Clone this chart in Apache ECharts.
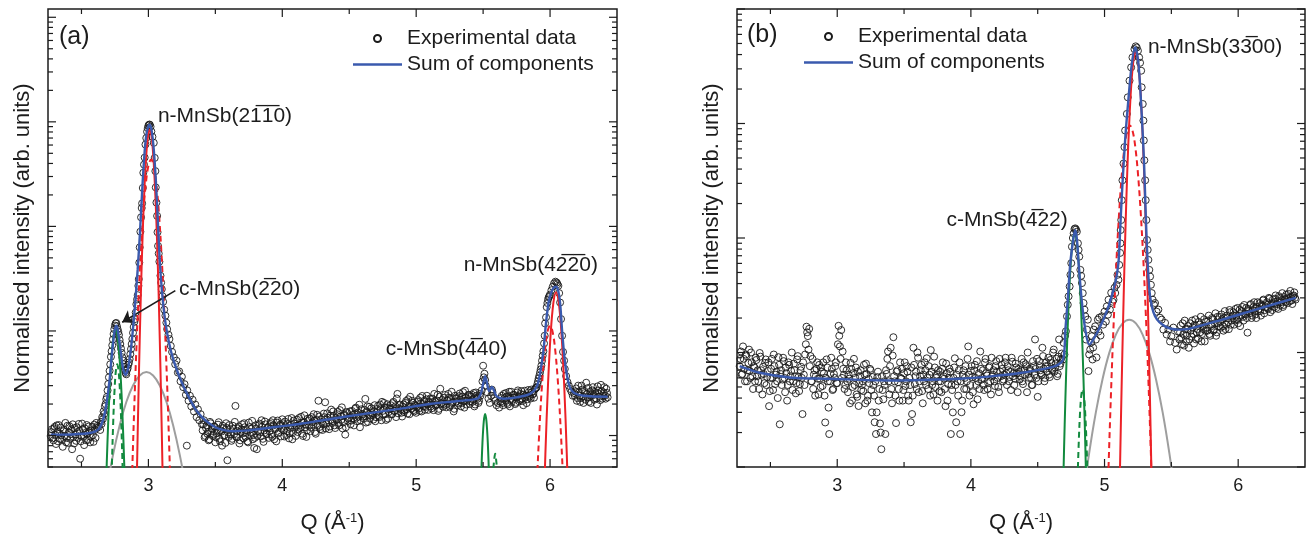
<!DOCTYPE html>
<html><head><meta charset="utf-8">
<script src="https://cdn.jsdelivr.net/npm/echarts@6/dist/echarts.min.js"></script>
<style>html,body{margin:0;padding:0;background:#fff}#c{width:1308px;height:539px}</style>
</head><body><div id="c"></div>
<script>
// ---------------- DATA (Q in 1/Angstrom, intensity in arb. units) ----------------
const qMajorTicks = [3, 4, 5, 6];
const qMinorTicks = [2.5, 3.5, 4.5, 5.5];

// Panel (a) experimental data
const expA = [
[2.27,99],[2.28,115],[2.29,90],[2.30,121],[2.31,83],[2.32,108],[2.33,126],[2.34,93],[2.35,101],[2.36,78],
[2.37,113],[2.38,132],[2.39,95],[2.40,85],[2.41,123],[2.42,103],[2.43,74],[2.44,97],[2.45,118],[2.46,89],
[2.47,108],[2.48,129],[2.49,60],[2.50,99],[2.51,115],[2.52,81],[2.53,106],[2.54,126],[2.55,91],[2.56,110],
[2.57,97],[2.58,121],[2.59,87],[2.60,113],[2.61,132],[2.62,124],
[2.63,121],[2.64,113],[2.645,135],[2.65,129],[2.655,150],[2.66,144],[2.665,170],[2.67,161],[2.675,190],[2.68,200],
[2.685,222],[2.69,234],[2.695,270],[2.70,311],[2.705,360],[2.71,416],[2.715,480],[2.72,566],[2.725,640],[2.73,729],
[2.735,830],[2.74,934],[2.745,1040],[2.75,1126],[2.755,1180],[2.76,1193],[2.765,1110],[2.77,1040],[2.775,980],[2.78,916],
[2.785,820],[2.79,750],[2.795,680],[2.80,617],[2.805,560],[2.81,521],[2.815,480],[2.82,454],[2.825,420],[2.83,397],
[2.835,385],[2.84,424],[2.845,440],[2.85,475],[2.855,500],[2.86,539],[2.865,600],[2.87,671],[2.875,750],[2.88,837],
[2.885,960],[2.89,1090],[2.895,1220],[2.90,1300],[2.905,1500],[2.91,1800],[2.915,2000],[2.92,2200],[2.925,2700],[2.928,3130],
[2.932,4500],[2.935,6300],[2.94,8900],[2.945,12200],[2.95,15000],[2.953,16600],[2.958,23300],[2.962,32600],[2.967,39000],[2.972,45500],
[2.978,60650],[2.984,70000],[2.99,80500],[2.995,87000],[3.00,92000],[3.005,94000],[3.01,94080],[3.016,90000],[3.022,81000],[3.03,72000],
[3.04,63000],[3.047,45200],[3.052,33800],[3.055,23600],[3.06,16900],[3.065,12600],[3.068,8800],[3.072,6500],[3.077,5500],[3.082,4600],
[3.09,3380],[3.095,2900],[3.10,2510],[3.105,2150],[3.11,1900],[3.118,1600],[3.127,1400],[3.134,1200],[3.14,1040],[3.15,920],
[3.157,837],[3.167,720],[3.177,630],[3.19,560],[3.20,480],[3.21,520],[3.22,400],[3.23,410],[3.24,330],[3.25,365],
[3.26,290],[3.27,310],[3.28,245],[3.287,80],[3.29,270],[3.30,215],[3.31,240],[3.32,190],[3.33,220],[3.34,170],[3.35,198],
[3.36,150],[3.37,178],[3.38,140],[3.39,160],[3.40,128],
[3.41,128],[3.42,96],[3.43,118],[3.44,104],[3.45,90],[3.46,135],[3.47,110],[3.48,99],[3.49,122],[3.50,86],
[3.51,105],[3.52,127],[3.53,93],[3.54,112],[3.55,80],[3.56,118],[3.57,101],[3.58,131],[3.59,58],[3.60,97],
[3.61,115],[3.62,89],[3.63,124],[3.64,103],[3.65,192],[3.66,96],[3.67,117],[3.68,84],[3.69,109],[3.70,128],
[3.71,94],[3.72,120],[3.73,106],[3.74,88],[3.75,133],[3.76,100],[3.77,116],[3.78,92],[3.79,76],[3.80,125],
[3.81,74],[3.82,110],[3.83,130],[3.84,98],[3.85,121],[3.86,87],[3.87,136],[3.88,104],[3.89,118],[3.90,95],
[3.91,129],[3.92,102],[3.93,140],[3.94,92],[3.95,118],[3.96,133],[3.97,105],[3.98,124],[3.99,98],[4.00,143],
[4.01,112],[4.02,136],[4.03,101],[4.04,129],[4.05,94],[4.06,118],[4.07,147],[4.08,108],[4.09,130],[4.10,99],
[4.11,142],[4.12,115],[4.13,126],[4.14,151],[4.15,104],[4.16,133],[4.17,120],[4.18,97],[4.19,145],[4.20,124],
[4.21,110],[4.22,150],[4.23,128],[4.24,139],[4.25,104],[4.26,158],[4.27,215],[4.28,121],[4.29,143],[4.30,113],
[4.31,162],[4.32,208],[4.33,130],[4.34,148],[4.35,115],[4.36,155],[4.37,137],[4.38,170],[4.39,125],[4.40,146],
[4.41,160],[4.42,132],[4.43,175],[4.44,141],[4.45,117],[4.46,155],[4.47,102],[4.48,168],[4.49,138],[4.50,150],
[4.51,128],[4.52,172],[4.53,146],[4.54,160],[4.55,185],[4.56,137],[4.57,152],[4.58,120],[4.59,178],[4.60,158],
[4.61,145],[4.62,224],[4.63,170],[4.64,135],[4.65,188],[4.66,156],[4.67,164],[4.68,142],[4.69,195],[4.70,150],
[4.71,180],[4.72,154],[4.73,198],[4.74,140],[4.75,172],[4.76,205],[4.77,160],[4.78,185],[4.79,145],[4.80,178],
[4.81,195],[4.82,160],[4.83,210],[4.84,172],[4.85,150],[4.86,250],[4.87,182],[4.88,198],[4.89,165],[4.90,188],
[4.91,168],[4.92,205],[4.93,178],[4.94,222],[4.95,160],[4.96,190],[4.97,215],[4.98,175],[4.99,198],[5.00,165],
[5.01,210],[5.02,182],[5.03,230],[5.04,170],[5.05,200],[5.06,215],[5.07,188],[5.08,240],[5.09,176],[5.10,205],
[5.11,190],[5.12,225],[5.13,175],[5.14,212],[5.15,198],[5.16,245],[5.17,180],[5.18,280],[5.19,205],[5.20,188],
[5.21,230],[5.22,196],[5.23,215],[5.24,250],[5.25,188],[5.26,225],[5.27,205],[5.28,170],[5.29,240],[5.30,212],
[5.31,195],[5.32,238],[5.33,220],[5.34,205],[5.35,260],[5.36,185],[5.37,230],[5.38,215],[5.39,245],[5.40,200],
[5.41,235],[5.42,210],[5.43,255],[5.44,198],[5.45,240],[5.46,225],[5.47,215],
[5.48,240],[5.49,270],[5.495,330],[5.50,465],[5.505,360],[5.51,390],[5.515,340],[5.52,300],[5.53,260],[5.54,225],
[5.55,205],[5.56,240],[5.565,275],[5.57,260],[5.58,230],[5.59,215],[5.60,195],[5.61,205],[5.62,185],
[5.63,210],[5.64,240],[5.65,195],[5.66,228],[5.67,255],[5.68,205],[5.69,238],[5.70,190],[5.71,262],[5.72,220],
[5.73,245],[5.74,200],[5.75,232],[5.76,270],[5.77,212],[5.78,250],[5.79,226],[5.80,195],[5.81,268],[5.82,240],
[5.83,222],[5.84,258],[5.85,236],[5.86,275],[5.87,248],[5.88,230],[5.89,282],[5.90,290],
[5.905,310],[5.91,330],[5.915,352],[5.92,373],[5.925,400],[5.93,430],[5.935,465],[5.94,520],[5.945,580],[5.95,640],
[5.955,760],[5.96,900],[5.963,1180],[5.97,1350],[5.975,1690],[5.98,1850],[5.985,2000],[5.99,2100],[5.995,2150],[6.00,2230],
[6.01,2450],[6.02,2650],[6.03,2850],[6.04,2960],[6.05,2900],[6.055,2800],[6.062,2700],[6.068,2300],[6.075,1870],[6.082,1300],
[6.09,900],[6.097,630],[6.105,520],[6.11,433],[6.12,370],[6.13,325],[6.14,300],[6.15,279],[6.16,262],[6.17,240],[6.18,255],
[6.19,265],[6.20,215],[6.21,300],[6.22,240],[6.23,228],[6.24,275],[6.25,205],[6.26,255],[6.27,320],[6.28,232],
[6.29,210],[6.30,262],[6.31,245],[6.32,290],[6.33,220],[6.34,250],[6.35,198],[6.36,270],[6.37,235],[6.38,305],
[6.39,225],[6.40,258],[6.41,240],[6.42,280],[6.43,232]
];
// Panel (a) experimental data, intermediate scan points in the flat regions
const expAmid = [
[2.275,108],[2.285,94],[2.295,117],[2.305,101],[2.315,125],[2.325,88],[2.335,104],[2.345,119],[2.355,92],[2.365,110],
[2.375,99],[2.385,86],[2.395,124],[2.405,107],[2.415,93],[2.425,115],[2.435,128],[2.445,84],[2.455,102],[2.465,120],
[2.475,95],[2.485,111],[2.495,88],[2.505,130],[2.515,97],[2.525,117],[2.535,90],[2.545,104],[2.555,122],[2.565,86],
[2.575,112],[2.585,101],[2.595,127],[2.605,95],[2.615,118],
[3.405,112],[3.415,140],[3.425,99],[3.435,125],[3.445,108],[3.455,92],[3.465,131],[3.475,117],[3.485,103],[3.495,121],
[3.505,96],[3.515,113],[3.525,134],[3.535,88],[3.545,109],[3.555,124],[3.565,100],[3.575,85],[3.585,118],[3.595,107],
[3.605,126],[3.615,102],[3.625,93],[3.635,116],[3.645,135],[3.655,98],[3.665,110],[3.675,122],[3.685,90],[3.695,114],
[3.705,105],[3.715,131],[3.725,97],[3.735,112],[3.745,86],[3.755,120],[3.765,108],[3.775,138],[3.785,101],[3.795,95],
[3.805,117],[3.815,99],[3.825,126],[3.835,108],[3.845,140],[3.855,93],[3.865,112],[3.875,128],[3.885,103],[3.895,121],
[3.905,110],[3.915,134],[3.925,97],[3.935,125],[3.945,115],[3.955,88],[3.965,139],[3.975,108],[3.985,128],[3.995,116],
[4.005,131],[4.015,98],[4.025,122],[4.035,110],[4.045,144],[4.055,105],[4.065,126],[4.075,92],[4.085,139],[4.095,119],
[4.105,124],[4.115,108],[4.125,147],[4.135,118],[4.145,133],[4.155,99],[4.165,156],[4.175,127],[4.185,112],[4.195,138],
[4.205,146],[4.215,119],[4.225,134],[4.235,160],[4.245,108],[4.255,141],[4.265,126],[4.275,152],[4.285,115],[4.295,135],
[4.305,128],[4.315,150],[4.325,117],[4.335,163],[4.345,139],[4.355,122],[4.365,177],[4.375,132],[4.385,154],[4.395,118],
[4.405,141],[4.415,168],[4.425,125],[4.435,152],[4.445,186],[4.455,133],[4.465,158],[4.475,120],[4.485,164],[4.495,145],
[4.505,170],[4.515,139],[4.525,157],[4.535,125],[4.545,181],[4.555,148],[4.565,166],[4.575,197],[4.585,140],[4.595,161],
[4.605,152],[4.615,176],[4.625,133],[4.635,190],[4.645,161],[4.655,145],[4.665,182],[4.675,158],[4.685,171],[4.695,137],
[4.705,165],[4.715,192],[4.725,150],[4.735,178],[4.745,210],[4.755,158],[4.765,186],[4.775,141],[4.785,199],[4.795,168],
[4.805,181],[4.815,159],[4.825,204],[4.835,172],[4.845,190],[4.855,226],[4.865,163],[4.875,195],[4.885,178],[4.895,152],
[4.905,198],[4.915,175],[4.925,214],[4.935,162],[4.945,188],[4.955,235],[4.965,180],[4.975,206],[4.985,170],[4.995,193],
[5.005,185],[5.015,218],[5.025,172],[5.035,201],[5.045,239],[5.055,190],[5.065,176],[5.075,222],[5.085,198],[5.095,212],
[5.105,226],[5.115,182],[5.125,208],[5.135,250],[5.145,193],[5.155,216],[5.165,172],[5.175,235],[5.185,200],[5.195,219],
[5.205,201],[5.215,244],[5.225,186],[5.235,218],[5.245,230],[5.255,196],[5.265,262],[5.275,209],[5.285,180],[5.295,226],
[5.305,228],[5.315,204],[5.325,252],[5.335,190],[5.345,236],[5.355,215],[5.365,268],[5.375,198],[5.385,224],[5.395,243],
[5.405,212],[5.415,246],[5.425,222],[5.435,190],[5.445,258],[5.455,232],[5.465,205],[5.475,250],
[5.635,228],[5.645,205],[5.655,250],[5.665,218],[5.675,236],[5.685,198],[5.695,262],[5.705,224],[5.715,210],[5.725,245],
[5.735,232],[5.745,206],[5.755,258],[5.765,238],[5.775,220],[5.785,266],[5.795,214],[5.805,246],[5.815,230],[5.825,204],
[5.835,272],[5.845,242],[5.855,226],[5.865,260],[5.875,250],[5.885,275],[5.895,285],
[6.185,240],[6.195,282],[6.205,228],[6.215,258],[6.225,210],[6.235,300],[6.245,236],[6.255,268],[6.265,220],[6.275,250],
[6.285,285],[6.295,232],[6.305,205],[6.315,270],[6.325,244],[6.335,262],[6.345,226],[6.355,295],[6.365,250],[6.375,218],
[6.385,266],[6.395,240],[6.405,290],[6.415,225],[6.425,255]
];
// Panel (a) fitted sum
const sumA = [
[2.27,102],[2.35,102],[2.45,103],[2.55,105],[2.60,109],[2.63,116],[2.65,129],[2.67,155],[2.69,215],[2.71,340],
[2.725,560],[2.74,850],[2.75,1040],[2.76,1125],[2.77,1040],[2.785,760],[2.80,540],[2.815,416],[2.83,380],[2.845,424],
[2.86,539],[2.875,780],[2.89,1250],[2.905,2120],[2.92,3900],[2.935,7900],[2.95,18130],[2.965,39090],[2.98,67680],[2.995,87000],
[3.01,94080],[3.025,81000],[3.04,54340],[3.055,28120],[3.07,11700],[3.085,4650],[3.10,2510],[3.12,1400],[3.14,950],[3.17,630],
[3.20,470],[3.25,320],[3.30,235],[3.35,180],[3.40,150],[3.45,132],[3.50,120],[3.55,114],[3.63,110],[3.75,112],
[3.89,118],[4.00,123],[4.13,129],[4.36,144],[4.60,160],[4.86,179],[5.10,200],[5.30,213],[5.45,224],[5.48,245],
[5.50,311],[5.515,370],[5.53,311],[5.545,267],[5.565,292],[5.58,272],[5.60,238],[5.65,225],[5.75,232],[5.85,250],
[5.90,293],[5.925,390],[5.95,640],[5.97,1200],[5.99,1900],[6.01,2350],[6.03,2620],[6.045,2650],[6.06,2450],[6.075,1850],
[6.09,1000],[6.105,600],[6.12,420],[6.135,330],[6.15,285],[6.18,255],[6.25,240],[6.43,235]
];
// Panel (a) components
const cGreenA = [[2.674,12],[2.684,34.5],[2.694,85],[2.704,183],[2.714,343],[2.724,558],[2.734,788],[2.744,970],[2.754,1040],[2.764,970],[2.774,788],[2.784,558],[2.794,343],[2.804,183],[2.814,85],[2.824,34.5],[2.834,12]];
const cGreenDashA = [[2.717,14],[2.727,50],[2.737,134],[2.747,272],[2.757,417],[2.767,480],[2.777,417],[2.787,272],[2.797,134],[2.807,50],[2.817,14]];
const nRedA = [[2.90,3.9],[2.91,22.4],[2.92,107],[2.93,433],[2.94,1490],[2.95,4370],[2.96,10800],[2.97,22600],[2.98,40100],[2.99,60600],[3.00,77600],[3.01,84300],[3.02,77600],[3.03,60600],[3.04,40100],[3.05,22600],[3.06,10800],[3.07,4370],[3.08,1490],[3.09,433],[3.10,107],[3.11,22.4],[3.12,3.9]];
const nRedDashA = [[2.86,6.3],[2.88,50],[2.90,302],[2.92,1380],[2.94,4800],[2.96,12600],[2.98,25100],[3.00,38000],[3.02,43600],[3.04,38000],[3.06,25100],[3.08,12600],[3.10,4800],[3.12,1380],[3.14,302],[3.16,50],[3.18,6.3]];
const grayA = [[2.635,11.2],[2.685,28.9],[2.735,64.6],[2.785,125],[2.835,209],[2.885,301],[2.935,375],[2.985,404],[3.035,375],[3.085,301],[3.135,209],[3.185,125],[3.235,64.6],[3.285,28.9],[3.335,11.2]];
const cGreen2A = [[5.475,12.3],[5.485,38],[5.495,85],[5.505,137],[5.515,161],[5.525,137],[5.535,85],[5.545,38],[5.555,12.3]];
const cGreen2DashA = [[5.565,20],[5.575,45],[5.585,62],[5.59,67],[5.595,62],[5.605,45],[5.615,20]];
const nRed2A = [[5.945,8.9],[5.965,66],[5.985,314],[6.005,960],[6.025,1870],[6.045,2340],[6.065,1870],[6.085,960],[6.105,314],[6.125,66],[6.145,8.9]];
const nRed2DashA = [[5.88,6.3],[5.90,31],[5.92,112],[5.94,307],[5.96,630],[5.98,970],[6.00,1120],[6.02,970],[6.04,630],[6.06,307],[6.08,112],[6.10,31],[6.12,6.3]];

// Panel (b) experimental data
const expB = [
[2.27,760],[2.28,1020],[2.29,650],[2.30,880],[2.31,560],[2.32,930],[2.33,700],[2.34,1060],[2.35,600],[2.36,820],
[2.37,480],[2.38,740],[2.39,900],[2.40,620],[2.41,560],[2.42,990],[2.43,700],[2.44,430],[2.45,650],[2.46,810],
[2.47,520],[2.48,690],[2.49,340],[2.50,600],[2.51,880],[2.52,470],[2.53,760],[2.54,640],[2.55,560],[2.56,910],
[2.57,236],[2.58,700],[2.59,580],[2.60,840],[2.61,450],[2.62,660],[2.63,520],[2.64,780],[2.65,620],[2.66,1000],
[2.67,560],[2.68,700],[2.69,440],[2.70,870],[2.71,610],[2.72,530],[2.73,750],[2.74,290],[2.75,640],[2.76,960],
[2.77,1680],[2.78,1390],[2.79,1610],[2.80,930],[2.81,560],[2.82,480],[2.83,700],[2.84,620],[2.85,820],[2.86,430],
[2.87,590],[2.88,740],[2.89,510],[2.90,660],[2.91,245],[2.92,870],[2.93,560],[2.94,194],[2.95,650],[2.96,720],
[2.97,480],[2.98,600],[2.99,820],[3.00,540],[3.01,1710],[3.02,1130],[3.03,1570],[3.04,1020],[3.05,640],[3.06,520],
[3.07,700],[3.08,450],[3.09,590],[3.10,810],[3.11,380],[3.12,660],[3.13,520],[3.14,740],[3.15,410],[3.16,341],
[3.17,620],[3.18,470],[3.19,560],[3.20,780],[3.21,360],[3.22,650],[3.23,420],[3.24,540],[3.25,700],[3.26,300],
[3.27,520],[3.28,246],[3.29,194],[3.30,610],[3.31,380],[3.32,240],[3.33,143],[3.34,470],[3.35,560],[3.36,194],
[3.37,650],[3.38,1020],[3.39,430],[3.40,1100],[3.41,360],[3.42,1360],[3.43,560],[3.44,242],[3.45,700],[3.46,480],
[3.47,820],[3.48,590],[3.49,380],[3.50,660],[3.51,510],[3.52,760],[3.53,420],[3.54,600],[3.55,246],[3.56,290],
[3.57,1100],[3.58,530],[3.59,680],[3.60,1000],[3.61,450],[3.62,620],[3.63,780],[3.64,360],[3.65,560],[3.66,700],
[3.67,890],[3.68,480],[3.69,640],[3.70,1050],[3.71,520],[3.72,430],[3.73,740],[3.74,600],[3.75,380],[3.76,560],
[3.77,680],[3.78,450],[3.79,820],[3.80,590],[3.81,340],[3.82,660],[3.83,530],[3.84,720],[3.85,194],[3.86,470],
[3.87,600],[3.88,890],[3.89,246],[3.90,560],[3.91,700],[3.92,194],[3.93,301],[3.94,640],[3.95,480],[3.96,760],
[3.97,560],[3.98,1130],[3.99,420],[4.00,690],[4.01,610],[4.02,353],[4.03,780],[4.04,520],[4.05,390],[4.06,660],
[4.07,1020],[4.08,580],[4.09,700],[4.10,470],[4.11,880],[4.12,630],[4.13,540],[4.14,760],[4.15,430],[4.16,620],
[4.17,700],[4.18,510],[4.19,840],[4.20,600],[4.21,450],[4.22,680],[4.23,780],[4.24,560],[4.25,640],[4.26,900],
[4.27,520],[4.28,700],[4.29,610],[4.30,470],[4.31,830],[4.32,660],[4.33,590],[4.34,740],[4.35,450],[4.36,680],
[4.37,620],[4.38,880],[4.39,530],[4.40,700],[4.41,790],[4.42,450],[4.43,650],[4.44,720],[4.45,600],[4.46,520],
[4.47,760],[4.48,1300],[4.49,600],[4.50,410],[4.51,840],[4.52,700],[4.53,640],[4.54,930],[4.55,560],[4.56,760],
[4.57,680],[4.58,900],[4.59,610],[4.60,810],[4.61,700],[4.62,1060],[4.63,740],[4.64,880],[4.65,650],[4.66,1300],
[4.67,800],[4.68,980],
[4.69,869],[4.694,1214],[4.70,960],[4.705,1400],[4.711,1531],[4.719,2069],[4.725,2614],[4.731,3090],[4.739,3773],[4.745,4766],
[4.751,6026],[4.756,8395],[4.763,10000],[4.769,10990],[4.775,11970],[4.781,12140],[4.787,11850],[4.793,11350],[4.801,8990],[4.806,7870],
[4.811,6870],[4.819,5270],[4.825,4675],[4.831,4040],[4.837,3300],[4.843,2705],[4.85,2366],[4.856,2069],[4.862,1297],[4.868,1585],
[4.875,1936],[4.88,688],[4.885,961],[4.893,1061],[4.90,1222],[4.905,1387],[4.91,869],[4.915,1105],[4.92,1585],[4.93,1693],
[4.935,1296],[4.94,905],[4.95,1936],[4.955,1523],[4.96,2014],[4.97,1406],[4.98,2069],[4.99,1750],[5.00,2273],[5.01,1861],
[5.017,2528],[5.025,2140],[5.03,2890],[5.04,2370],[5.05,3325],[5.06,2775],[5.067,2890],[5.075,3674],[5.08,3304],[5.09,3900],
[5.097,4766],[5.104,4313],[5.11,5823],[5.117,7412],[5.119,8990],[5.121,11740],[5.125,14350],[5.129,21400],[5.134,31900],[5.142,44700],
[5.149,62200],[5.154,86900],[5.167,121300],[5.174,169300],[5.187,236600],[5.199,309000],[5.209,377500],[5.224,446500],[5.233,472000],[5.241,461000],
[5.25,431500],[5.259,377500],[5.266,339000],[5.274,289000],[5.278,207000],[5.286,148000],[5.291,106000],[5.294,71100],[5.298,47700],[5.304,31900],
[5.308,21400],[5.313,14350],[5.318,9610],[5.323,7870],[5.328,6440],[5.335,5270],[5.341,4606],[5.347,3900],[5.353,3304],[5.36,2890],
[5.37,2614],[5.378,2705],[5.39,2273],[5.403,2370],[5.415,2014],[5.428,1936],[5.44,1585],[5.453,1813],[5.465,1434],[5.478,1585],
[5.49,1247],[5.50,1387],[5.515,1650],[5.528,1214],[5.54,1061],[5.55,1523],
[5.56,1300],[5.57,1720],[5.58,1180],[5.59,1450],[5.60,1900],[5.61,1250],[5.62,1600],[5.63,1100],[5.64,1800],[5.65,1380],
[5.66,1650],[5.67,1200],[5.68,1950],[5.69,1500],[5.70,1320],[5.71,1750],[5.72,2050],[5.73,1450],[5.74,1600],[5.75,1250],
[5.76,1850],[5.77,1550],[5.78,2100],[5.79,1400],[5.80,1700],[5.81,1950],[5.82,1600],[5.83,2200],[5.84,1500],[5.85,1800],
[5.86,2050],[5.87,1650],[5.88,1950],[5.89,1550],[5.90,2300],[5.91,1750],[5.92,2000],[5.93,1600],[5.94,2250],[5.95,1900],
[5.96,2100],[5.97,1750],[5.98,2400],[5.99,1950],[6.00,1800],[6.01,2350],[6.02,2100],[6.03,2500],[6.04,1900],[6.05,2200],
[6.06,2450],[6.07,1490],[6.08,2300],[6.09,2600],[6.10,2000],[6.11,2350],[6.12,2750],[6.13,2150],[6.14,2500],[6.15,2300],
[6.16,2700],[6.17,2100],[6.18,2550],[6.19,2900],[6.20,2350],[6.21,2650],[6.22,2450],[6.23,3000],[6.24,2250],[6.25,2700],
[6.26,2900],[6.27,2500],[6.28,3150],[6.29,2650],[6.30,2400],[6.31,3000],[6.32,2750],[6.33,3300],[6.34,2600],[6.35,2900],
[6.36,3200],[6.37,2700],[6.38,3000],[6.39,3450],[6.40,2850],[6.41,3100],[6.42,3350],[6.43,2900]
];
// Panel (b) experimental data, intermediate scan points in the flat regions
const expBmid = [
[2.275,880],[2.285,640],[2.295,1130],[2.305,720],[2.315,960],[2.325,560],[2.335,810],[2.345,690],[2.355,1000],[2.365,620],
[2.375,760],[2.385,560],[2.395,860],[2.405,700],[2.415,480],[2.425,920],[2.435,640],[2.445,750],[2.455,540],[2.465,870],
[2.475,610],[2.485,820],[2.495,460],[2.505,720],[2.515,600],[2.525,960],[2.535,530],[2.545,680],[2.555,400],[2.565,780],
[2.575,650],[2.585,520],[2.595,900],[2.605,600],[2.615,740],[2.625,380],[2.635,820],[2.645,560],[2.655,690],[2.665,470],
[2.675,800],[2.685,620],[2.695,540],[2.705,930],[2.715,460],[2.725,700],[2.735,600],[2.745,820],[2.755,520],[2.765,1180],
[2.775,1500],[2.785,1060],[2.795,760],[2.805,560],[2.815,880],[2.825,640],[2.835,420],[2.845,720],[2.855,590],[2.865,780],
[2.875,500],[2.885,680],[2.895,820],[2.905,420],[2.915,600],[2.925,740],[2.935,330],[2.945,560],[2.955,900],[2.965,470],
[2.975,650],[2.985,760],[2.995,540],[3.005,1180],[3.015,1400],[3.025,880],[3.035,600],[3.045,720],[3.055,480],[3.065,820],
[3.075,560],[3.085,640],[3.095,360],[3.105,720],[3.115,500],[3.125,880],[3.135,600],[3.145,430],[3.155,680],[3.165,540],
[3.175,700],[3.185,520],[3.195,460],[3.205,640],[3.215,800],[3.225,380],[3.235,590],[3.245,720],[3.255,470],[3.265,610],
[3.275,420],[3.285,560],[3.295,300],[3.305,680],[3.315,480],[3.325,200],[3.335,620],[3.345,390],[3.355,520],[3.365,700],
[3.375,880],[3.385,560],[3.395,760],[3.405,480],[3.415,940],[3.425,620],[3.435,420],[3.445,680],[3.455,550],[3.465,380],
[3.475,600],[3.485,720],[3.495,470],[3.505,820],[3.515,560],[3.525,680],[3.535,380],[3.545,520],[3.555,740],[3.565,420],
[3.575,780],[3.585,620],[3.595,480],[3.605,900],[3.615,560],[3.625,700],[3.635,460],[3.645,640],[3.655,820],[3.665,520],
[3.675,600],[3.685,760],[3.695,420],[3.705,680],[3.715,560],[3.725,920],[3.735,500],[3.745,640],[3.755,700],[3.765,460],
[3.775,560],[3.785,720],[3.795,620],[3.805,480],[3.815,800],[3.825,380],[3.835,600],[3.845,680],[3.855,520],[3.865,300],
[3.875,740],[3.885,520],[3.895,640],[3.905,420],[3.915,820],[3.925,560],[3.935,380],[3.945,700],[3.955,600],[3.965,480],
[3.975,880],[3.985,640],[3.995,520],[4.005,760],[4.015,450],[4.025,700],[4.035,600],[4.045,840],[4.055,560],[4.065,480],
[4.075,720],[4.085,600],[4.095,520],[4.105,820],[4.115,660],[4.125,480],[4.135,740],[4.145,560],[4.155,900],[4.165,640],
[4.175,560],[4.185,760],[4.195,680],[4.205,500],[4.215,880],[4.225,620],[4.235,720],[4.245,580],[4.255,820],[4.265,660],
[4.275,760],[4.285,560],[4.295,680],[4.305,900],[4.315,620],[4.325,520],[4.335,800],[4.345,660],[4.355,720],[4.365,580],
[4.375,700],[4.385,560],[4.395,820],[4.405,640],[4.415,760],[4.425,1000],[4.435,600],[4.445,700],[4.455,520],[4.465,840],
[4.475,640],[4.485,720],[4.495,880],[4.505,560],[4.515,760],[4.525,660],[4.535,1100],[4.545,720],[4.555,600],[4.565,820],
[4.575,760],[4.585,640],[4.595,860],[4.605,720],[4.615,1000],[4.625,680],[4.635,800],[4.645,620],[4.655,920],[4.665,760],
[4.675,880],
[5.565,1500],[5.575,1350],[5.585,1800],[5.595,1150],[5.605,1600],[5.615,1400],[5.625,1700],[5.635,1300],[5.645,1550],[5.655,1900],
[5.665,1450],[5.675,1750],[5.685,1300],[5.695,1600],[5.705,1850],[5.715,1500],[5.725,1250],[5.735,1700],[5.745,1950],[5.755,1550],
[5.765,1650],[5.775,1900],[5.785,1450],[5.795,1750],[5.805,2000],[5.815,1550],[5.825,1800],[5.835,1400],[5.845,2050],[5.855,1700],
[5.865,1850],[5.875,2150],[5.885,1700],[5.895,2000],[5.905,1600],[5.915,2100],[5.925,1850],[5.935,2350],[5.945,1750],[5.955,2050],
[5.965,2250],[5.975,1900],[5.985,2100],[5.995,2450],[6.005,2000],[6.015,1700],[6.025,2300],[6.035,2050],[6.045,2600],[6.055,2150],
[6.065,2000],[6.075,2400],[6.085,2200],[6.095,2650],[6.105,2100],[6.115,2500],[6.125,2300],[6.135,2000],[6.145,2750],[6.155,2400],
[6.165,2300],[6.175,2600],[6.185,2850],[6.195,2200],[6.205,2500],[6.215,2750],[6.225,2400],[6.235,2950],[6.245,2600],[6.255,2350],
[6.265,2700],[6.275,2950],[6.285,2450],[6.295,2800],[6.305,3100],[6.315,2600],[6.325,2850],[6.335,2500],[6.345,3050],[6.355,2750],
[6.365,2950],[6.375,3250],[6.385,2800],[6.395,3050],[6.405,2650],[6.415,3150],[6.425,3000]
];
const sumB = [
[2.27,760],[2.42,665],[2.66,602],[2.92,590],[3.41,570],[3.91,590],[4.13,615],[4.38,665],[4.63,760],[4.69,869],
[4.707,1585],[4.725,2890],[4.744,6030],[4.769,10260],[4.781,11700],[4.794,9600],[4.806,6030],[4.831,2720],[4.856,1585],[4.886,1172],
[4.93,1387],[4.98,1810],[5.03,2530],[5.08,4050],[5.104,6030],[5.117,11700],[5.129,22900],[5.154,71100],[5.18,169000],[5.204,330000],
[5.229,461000],[5.254,330000],[5.278,121000],[5.296,44700],[5.308,16400],[5.323,6030],[5.341,3090],[5.378,2070],[5.453,1690],[5.552,1585],
[5.63,1610],[5.88,1936],[6.13,2370],[6.43,3000]
];
const cGreenB = [[4.677,11],[4.687,44],[4.697,141],[4.707,389],[4.717,940],[4.727,1998],[4.737,3690],[4.747,5950],[4.757,8370],[4.767,10270],[4.777,10990],[4.787,10270],[4.797,8370],[4.807,5950],[4.817,3690],[4.827,1998],[4.837,940],[4.847,389],[4.857,141],[4.867,44],[4.877,11]];
const cGreenDashB = [[4.786,19.7],[4.796,62],[4.806,151],[4.816,287],[4.826,420],[4.836,477],[4.846,420],[4.856,287],[4.866,151],[4.876,62],[4.886,19.7]];
const nRedB = [[5.103,14],[5.113,65],[5.123,265],[5.133,948],[5.143,3020],[5.153,8500],[5.163,21200],[5.173,46800],[5.183,91500],[5.193,158000],[5.203,243000],[5.213,329000],[5.223,395000],[5.233,420000],[5.243,395000],[5.253,329000],[5.263,243000],[5.273,158000],[5.283,91500],[5.293,46800],[5.303,21200],[5.313,8500],[5.323,3020],[5.333,948],[5.343,265],[5.353,65],[5.363,14]];
const nRedDashB = [[5.01,16],[5.03,100],[5.05,500],[5.07,2020],[5.09,6580],[5.11,17200],[5.13,36700],[5.15,62700],[5.17,86200],[5.19,96100],[5.21,86200],[5.23,62700],[5.25,36700],[5.27,17200],[5.29,6580],[5.31,2020],[5.33,500],[5.35,100],[5.37,16]];
const grayB = [[4.785,16],[4.835,50],[4.885,132],[4.935,300],[4.985,585],[5.035,988],[5.085,1435],[5.135,1795],[5.185,1936],[5.235,1795],[5.285,1435],[5.335,988],[5.385,585],[5.435,300],[5.485,132],[5.535,50],[5.585,16]];

// Peak labels (anchor = left-middle of the text, in data coordinates)
const OL = '\u0305';
const labelsA = [
  {name: 'n-MnSb(21' + OL + '1' + OL + '0)', value: [3.067, 114000]},
  {name: 'c-MnSb(2' + OL + '20)', value: [3.224, 2520]},
  {name: 'c-MnSb(4' + OL + '40)', value: [4.769, 673]},
  {name: 'n-MnSb(42' + OL + '2' + OL + '0)', value: [5.351, 4285]}
];
const arrowA = [[3.201, 2430], [2.804, 1212]];
const labelsB = [
  {name: 'c-MnSb(4' + OL + '22)', value: [3.813, 14350]},
  {name: 'n-MnSb(33' + OL + '00)', value: [5.321, 461000]}
];

// ---------------- CHART ----------------
const FONT = "'Liberation Sans', Arial, Helvetica, sans-serif";
const INK = '#1c1c1c';
const COL = {blue: '#3a5aae', red: '#ec2127', green: '#128a3e', gray: '#9e9e9e'};

function logTicks(min, max) {
  const major = [], minor = [];
  for (let e = Math.floor(Math.log10(min)); e <= Math.ceil(Math.log10(max)); e++) {
    for (let k = 1; k <= 9; k++) {
      const v = k * Math.pow(10, e);
      if (v >= min * 0.9999 && v <= max * 1.0001) (k === 1 ? major : minor).push(v);
    }
  }
  return {major, minor};
}

function tickSeries(i, xmin, ymin, ymax) {
  const lt = logTicks(ymin, ymax);
  const data = [];
  qMajorTicks.forEach(v => data.push([v, ymin, 0]));
  qMinorTicks.forEach(v => data.push([v, ymin, 1]));
  lt.major.forEach(v => data.push([xmin, v, 2]));
  lt.minor.forEach(v => data.push([xmin, v, 3]));
  return {
    type: 'custom', xAxisIndex: i, yAxisIndex: i, data: data, encode: {x: 0, y: 1},
    silent: true, z: 20,
    renderItem: function (params, api) {
      const cs = params.coordSys;
      const kind = api.value(2);
      const p = api.coord([api.value(0), api.value(1)]);
      const st = {stroke: INK, lineWidth: 1.2};
      if (kind < 2) {
        const L = kind === 0 ? 8 : 5, x = p[0], b = cs.y + cs.height;
        return {type: 'group', children: [
          {type: 'line', shape: {x1: x, y1: b, x2: x, y2: b - L}, style: st},
          {type: 'line', shape: {x1: x, y1: cs.y, x2: x, y2: cs.y + L}, style: st}
        ]};
      }
      const L = kind === 2 ? 8 : 5, y = p[1], r = cs.x + cs.width;
      return {type: 'group', children: [
        {type: 'line', shape: {x1: cs.x, y1: y, x2: cs.x + L, y2: y}, style: st},
        {type: 'line', shape: {x1: r, y1: y, x2: r - L, y2: y}, style: st}
      ]};
    }
  };
}

function comp(i, data, color, dashed) {
  return {type: 'line', xAxisIndex: i, yAxisIndex: i, data: data, symbol: 'none', smooth: 0.35,
    silent: true, z: 4, lineStyle: {color: color, width: 2, type: dashed ? [6, 4] : 'solid'}};
}

function panel(i, exp, sum, comps, labels, arrow, ymin, ymax) {
  const s = [];
  s.push({name: 'Experimental data', type: 'scatter', xAxisIndex: i, yAxisIndex: i, data: exp,
    symbol: 'circle', symbolSize: 7, silent: true, z: 2,
    itemStyle: {color: 'rgba(255,255,255,0)', borderColor: '#1a1a1a', borderWidth: 0.9, opacity: 1}});
  comps.forEach(c => s.push(comp(i, c[0], c[1], c[2])));
  s.push({name: 'Sum of components', type: 'line', xAxisIndex: i, yAxisIndex: i, data: sum,
    symbol: 'none', smooth: 0.3, silent: true, z: 6,
    itemStyle: {color: COL.blue}, lineStyle: {color: COL.blue, width: 2.4}});
  const ann = {type: 'scatter', xAxisIndex: i, yAxisIndex: i, data: labels, symbolSize: 1, silent: true, z: 8,
    itemStyle: {color: 'rgba(0,0,0,0)', opacity: 1},
    label: {show: true, position: 'right', distance: 0, formatter: '{b}', fontSize: 21,
      color: INK, fontFamily: FONT}};
  if (arrow) {
    ann.markLine = {silent: true, animation: false, symbol: ['none', 'arrow'], symbolSize: 11,
      label: {show: false}, itemStyle: {color: INK}, lineStyle: {color: INK, width: 1.6, type: 'solid', opacity: 1},
      data: [[{coord: arrow[0]}, {coord: arrow[1]}]]};
  }
  s.push(ann);
  s.push(tickSeries(i, 2.25, ymin, ymax));
  return s;
}

function xAxis(i) {
  return {type: 'value', gridIndex: i, min: 2.25, max: 6.5, interval: 0.25,
    axisLine: {show: false}, axisTick: {show: false}, splitLine: {show: false},
    axisLabel: {fontSize: 18, color: INK, fontFamily: FONT, margin: 10,
      formatter: v => (Math.abs(v - Math.round(v)) < 1e-6 ? String(Math.round(v)) : '')},
    name: 'Q (Å{s|-1})', nameLocation: 'middle', nameGap: 45,
    nameTextStyle: {fontSize: 22, color: INK, fontFamily: FONT,
      rich: {s: {fontSize: 13, verticalAlign: 'top', color: INK, fontFamily: FONT}}}};
}
function yAxis(i, min, max) {
  return {type: 'log', logBase: 10, gridIndex: i, min: min, max: max,
    axisLine: {show: false}, axisTick: {show: false}, splitLine: {show: false}, axisLabel: {show: false},
    name: 'Normalised intensity (arb. units)', nameLocation: 'middle', nameGap: 14,
    nameTextStyle: {fontSize: 22, color: INK, fontFamily: FONT}};
}
function legend(left, top) {
  return {left: left, top: top, orient: 'vertical', padding: 0, itemGap: 5, itemWidth: 49, itemHeight: 7,
    selectedMode: false, textStyle: {fontSize: 21, color: INK, fontFamily: FONT},
    data: [
      {name: 'Experimental data'},
      {name: 'Sum of components', icon: 'path://M0,0H49V2.4H0Z', itemStyle: {color: COL.blue, borderWidth: 0}}
    ]};
}

const YA = [50, 1.2e6], YB = [100, 1e6];
const option = {
  animation: false,
  backgroundColor: '#ffffff',
  textStyle: {fontFamily: FONT},
  title: [
    {text: '(a)', left: 59, top: 25, padding: 0, textStyle: {fontSize: 25, fontWeight: 'normal', color: INK, fontFamily: FONT}},
    {text: '(b)', left: 747, top: 23, padding: 0, textStyle: {fontSize: 25, fontWeight: 'normal', color: INK, fontFamily: FONT}}
  ],
  legend: [legend(353, 28), legend(804, 26)],
  grid: [
    {left: 48, top: 9, width: 569, height: 459, show: true, borderColor: INK, borderWidth: 1.5, backgroundColor: 'transparent'},
    {left: 737, top: 9, width: 568, height: 460, show: true, borderColor: INK, borderWidth: 1.5, backgroundColor: 'transparent'}
  ],
  xAxis: [xAxis(0), xAxis(1)],
  yAxis: [yAxis(0, YA[0], YA[1]), yAxis(1, YB[0], YB[1])],
  series: [].concat(
    panel(0, expA.concat(expAmid), sumA, [
      [grayA, COL.gray, false],
      [cGreenA, COL.green, false], [cGreenDashA, COL.green, true],
      [nRedA, COL.red, false], [nRedDashA, COL.red, true],
      [cGreen2A, COL.green, false], [cGreen2DashA, COL.green, true],
      [nRed2A, COL.red, false], [nRed2DashA, COL.red, true]
    ], labelsA, arrowA, YA[0], YA[1]),
    panel(1, expB.concat(expBmid), sumB, [
      [grayB, COL.gray, false],
      [cGreenB, COL.green, false], [cGreenDashB, COL.green, true],
      [nRedB, COL.red, false], [nRedDashB, COL.red, true]
    ], labelsB, null, YB[0], YB[1])
  )
};
const chart = echarts.init(document.getElementById('c'), null, {renderer: 'canvas'});
chart.setOption(option);
</script></body></html>
